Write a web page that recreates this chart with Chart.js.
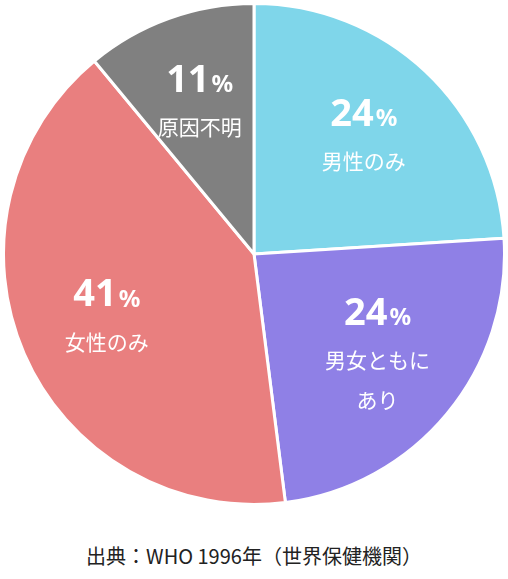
<!DOCTYPE html>
<html><head><meta charset="utf-8">
<script src="https://cdn.jsdelivr.net/npm/chart.js@4"></script>
<style>
body{margin:0;background:#fff;font-family:"Noto Sans CJK JP","Noto Sans",sans-serif;}
#wrap{width:508px;height:508px;}
#cap{text-align:center;font-size:20px;color:#222;margin-top:33px;}
</style></head><body>
<div id="wrap"><canvas id="c"></canvas></div>
<div id="cap">出典：WHO 1996年（世界保健機関）</div>
<script>
const categories = [['男性のみ'], ['男女ともに', 'あり'], ['女性のみ'], ['原因不明']];
const values = [24, 24, 41, 11];
const colors = ['#7fd6ea', '#8f80e6', '#e97f7f', '#808080'];

const labelPlugin = {
    id: 'labels',
    afterDatasetsDraw(chart) {
        const ctx = chart.ctx;
        chart.getDatasetMeta(0).data.forEach((arc, i) => {
            const mid = (arc.startAngle + arc.endAngle) / 2;
            const r = arc.outerRadius * 0.64;
            const x = arc.x + Math.cos(mid) * r;
            const y = arc.y + Math.sin(mid) * r;
            const lines = categories[i];
            const top = y - 22 - (lines.length - 1) * 20;
            ctx.save();
            ctx.fillStyle = '#fff';
            ctx.textBaseline = 'middle';
            ctx.font = 'bold 38px "Noto Sans", sans-serif';
            const num = String(values[i]);
            const nw = ctx.measureText(num).width;
            ctx.font = 'bold 24px "Noto Sans", sans-serif';
            const pw = ctx.measureText('%').width;
            const sx = x - (nw + pw + 2) / 2;
            ctx.textAlign = 'left';
            ctx.font = 'bold 38px "Noto Sans", sans-serif';
            ctx.fillText(num, sx, top);
            ctx.font = 'bold 24px "Noto Sans", sans-serif';
            ctx.fillText('%', sx + nw + 2, top + 4);
            ctx.textAlign = 'center';
            ctx.font = '21px "Noto Sans CJK JP", sans-serif';
            lines.forEach((t, j) => ctx.fillText(t, x, top + 46 + j * 40));
            ctx.restore();
        });
    }
};

new Chart(document.getElementById('c'), {
    type: 'pie',
    data: {
        labels: categories.map(l => l.join('')),
        datasets: [{
            data: values,
            backgroundColor: colors,
            borderColor: '#fff',
            borderWidth: 3
        }]
    },
    options: {
        responsive: true,
        maintainAspectRatio: false,
        animation: false,
        layout: { padding: 2 },
        plugins: { legend: { display: false }, tooltip: { enabled: false } }
    },
    plugins: [labelPlugin]
});
</script>
</body></html>
